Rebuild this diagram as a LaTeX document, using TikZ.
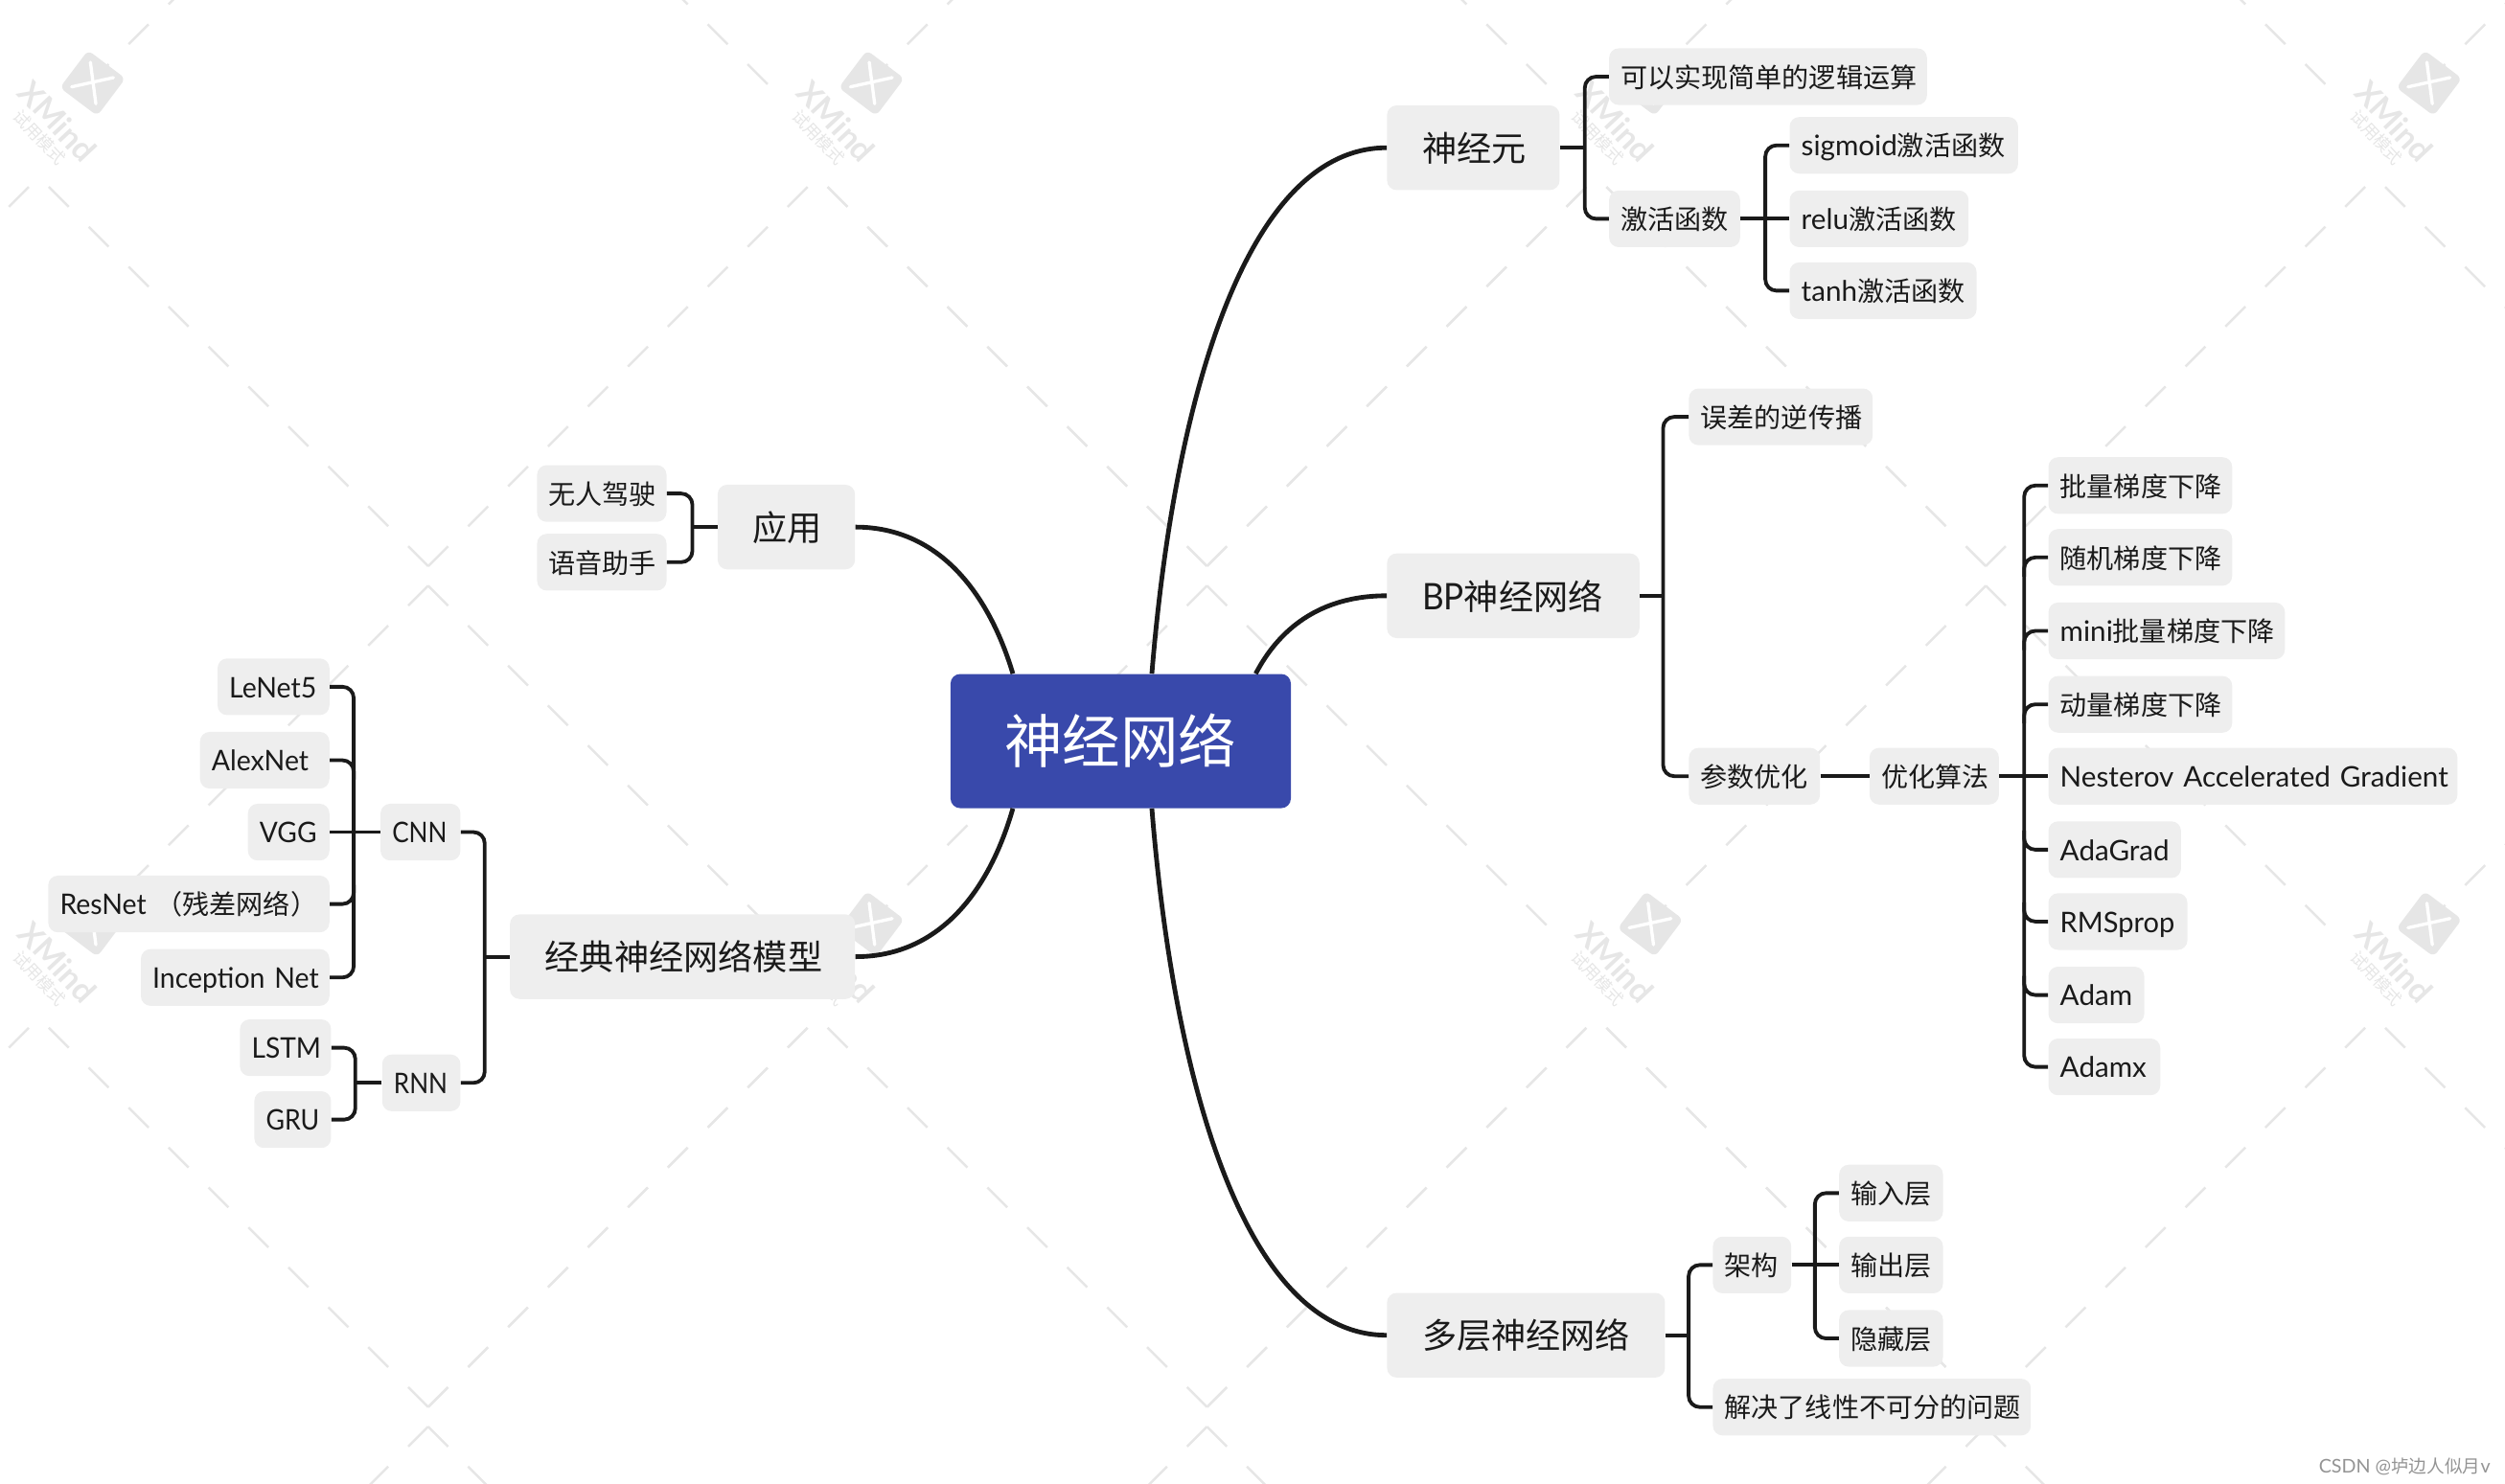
\documentclass[tikz,border=0pt]{standalone}
\usepackage{fontspec}
\setmainfont{Lato}[Scale=1.055]
\newfontfamily\cjf{Noto Sans CJK SC}
\newcommand\zh[1]{{\cjf #1}}
\newcommand\nr[2]{{\addfontfeatures{FakeStretch=#1}#2}}
\definecolor{ink}{HTML}{1A1A1A}
\definecolor{boxg}{HTML}{EEEEEE}
\definecolor{blue1}{HTML}{3949AB}
\definecolor{wmg}{HTML}{E6E6E6}
\tikzset{
  topicbox/.style={fill=boxg,rounded corners=6pt,inner ysep=0pt,text=ink,align=left,anchor=west},
  sub/.style={topicbox,font=\fontsize{16.85}{20}\selectfont,minimum height=35.5pt,text height=15.2pt,text depth=1.7pt,inner xsep=7.3pt},
  major/.style={topicbox,font=\fontsize{21.7}{26}\selectfont,minimum height=53pt,text height=19.4pt,text depth=2.3pt,inner xsep=22pt},
  central/.style={fill=blue1,rounded corners=6pt,text=white,font=\fontsize{36.3}{42}\selectfont,minimum width=213pt,minimum height=84pt,inner sep=0pt,text height=31.7pt,text depth=4.3pt},
  curve/.style={draw=ink,line width=2.9pt},
  br/.style={draw=ink,line width=2.3pt},
  brc/.style={br,rounded corners=7pt},
  wm/.style={draw=wmg,line width=1.5pt},
}
\newcommand\snd[5]{\pgfmathsetmacro\wa{#3-#2}\pgfmathsetmacro\wb{#3-#2-14.6}\node[sub,minimum width=\wa pt,text width=\wb pt] (#1) at (#2,#4) {\mbox{#5}};}
\newcommand\mnd[5]{\pgfmathsetmacro\wa{#3-#2}\pgfmathsetmacro\wb{#3-#2-44}\node[major,minimum width=\wa pt,text width=\wb pt] (#1) at (#2,#4) {\mbox{#5}};}
\begin{document}
\begin{tikzpicture}[x=1pt,y=-1pt]
\useasboundingbox (0,0) rectangle (1568,928.6);
% watermark
\begin{scope}
\clip (0,0) rectangle (1568,928.6);
\foreach \k in {-1,...,3}{
 \foreach \m in {-1,0,1}{
  \pgfmathsetmacro\cxx{268+487.5*\k}
  \pgfmathsetmacro\vy{354.5+526.5*\m}
  \pgfmathsetmacro\uy{366.7+526.5*\m}
  \foreach \n in {0,...,9}{
   \draw[wm] ({\cxx-25*\n},{\vy-25*\n}) -- ++(-12.5,-12.5);
   \draw[wm] ({\cxx+25*\n},{\vy-25*\n}) -- ++(12.5,-12.5);
  }
  \foreach \n in {0,...,8}{
   \draw[wm] ({\cxx-25*\n},{\uy+25*\n}) -- ++(-12.5,12.5);
   \draw[wm] ({\cxx+25*\n},{\uy+25*\n}) -- ++(12.5,12.5);
  }
 }
}
\foreach \k in {0,...,3}{
 \foreach \m in {0,1}{
  \begin{scope}[shift={({487.5*\k},{526.5*\m})}]
   \node[fill=wmg,rounded corners=3.5pt,minimum size=29.3pt,inner sep=0pt,rotate=-37] (wmlogo\k\m) at (58,52) {};
   \draw[white,line width=2pt,line cap=round] (56.6,39) -- (60,65);
   \draw[white,line width=2pt,line cap=round] (44.8,54.4) -- (71,48.6);
   \node[text=wmg,font=\bfseries\fontsize{19}{24}\selectfont,rotate=-47,inner sep=0pt] (wmname\k\m) at (36,76) {XMind};
   \node[text=wmg,font=\cjf\fontsize{10.5}{12}\selectfont,rotate=-47,inner sep=0pt] (wmtrial\k\m) at (25,86) {试用模式};
  \end{scope}
 }
}
\end{scope}
% central
\node[central] (c) at (701.5,464) {\zh{神经网络}};
% right side
\mnd{neuron}{868}{976}{92.5}{\zh{神经元}}
\snd{logic}{1007}{1206}{48}{\zh{可以实现简单的逻辑运算}}
\snd{act}{1007}{1089}{137}{\zh{激活函数}}
\snd{sigm}{1120}{1263}{91}{sigmoid\zh{激活函数}}
\snd{relu}{1120}{1232}{137}{relu\zh{激活函数}}
\snd{tanh}{1120}{1237}{182}{tanh\zh{激活函数}}
\mnd{bp}{868}{1026}{373}{\nr{0.92}{BP}\zh{神经网络}}
\snd{backp}{1057}{1172}{261}{\zh{误差的逆传播}}
\snd{param}{1057}{1139}{486}{\zh{参数优化}}
\snd{optim}{1170}{1251}{486}{\zh{优化算法}}
\snd{o1}{1282}{1397}{304}{\zh{批量梯度下降}}
\snd{o2}{1282}{1397}{349}{\zh{随机梯度下降}}
\snd{o3}{1282}{1430}{395}{mini\zh{批量梯度下降}}
\snd{o4}{1282}{1397}{441}{\zh{动量梯度下降}}
\snd{o5}{1282}{1538}{486}{Nesterov Accelerated Gradient}
\snd{o6}{1282}{1365}{532}{AdaGrad}
\snd{o7}{1282}{1369}{577}{\nr{0.98}{RMSprop}}
\snd{o8}{1282}{1342}{623}{Adam}
\snd{o9}{1282}{1352}{668}{Adamx}
\mnd{multi}{868}{1042}{836}{\zh{多层神经网络}}
\snd{arch}{1072}{1121}{792}{\zh{架构}}
\snd{inl}{1151}{1216}{747}{\zh{输入层}}
\snd{outl}{1151}{1216}{792}{\zh{输出层}}
\snd{hidl}{1151}{1216}{838}{\zh{隐藏层}}
\snd{solve}{1072}{1271}{881}{\zh{解决了线性不可分的问题}}
% left side
\mnd{app}{449}{535}{330}{\zh{应用}}
\snd{drive}{336}{417}{309}{\zh{无人驾驶}}
\snd{voice}{336}{417}{352}{\zh{语音助手}}
\mnd{classic}{319}{535}{599}{\zh{经典神经网络模型}}
\snd{cnn}{238}{288}{521}{\nr{0.88}{CNN}}
\snd{rnn}{239}{288}{678}{\nr{0.88}{RNN}}
\snd{lenet}{136}{206}{430}{\nr{0.96}{LeNet5}}
\snd{alex}{125}{206}{476}{\nr{0.96}{AlexNet}}
\snd{vgg}{155}{206}{521}{\nr{0.95}{VGG}}
\snd{resnet}{30}{206}{566}{\nr{0.96}{ResNet} \zh{（残差网络）}}
\snd{incep}{88}{206}{612}{\nr{0.96}{Inception Net}}
\snd{lstm}{150}{207}{656}{\nr{0.95}{LSTM}}
\snd{gru}{159}{207}{701}{\nr{0.90}{GRU}}
% credit
\node[text=black!42,font=\fontsize{11.2}{14}\selectfont,anchor=east,inner sep=0pt] (credit) at (1559,918) {CSDN @\zh{垆边人似月}v};
% main curves
\draw[curve] ([xshift=19.5pt]c.north) .. controls (735,250) and (780,92.5) .. (neuron.west);
\draw[curve] ([xshift=84.5pt]c.north) .. controls (800,395) and (825,373) .. (bp.west);
\draw[curve] ([xshift=19.5pt]c.south) .. controls (735,680) and (780,836) .. (multi.west);
\draw[curve] ([xshift=-67.5pt]c.north) .. controls (620,375) and (590,330) .. (app.east);
\draw[curve] ([xshift=-67.5pt]c.south) .. controls (620,555) and (590,599) .. (classic.east);
% neuron
\draw[br] (neuron.east) -- ++(16,0);
\draw[brc] (logic.west) -- ++(-15,0) |- (act.west);
% activation
\draw[br] (act.east) -- (relu.west);
\draw[brc] (sigm.west) -- ++(-15,0) |- (tanh.west);
% bp
\draw[br] (bp.east) -- ++(15,0);
\draw[brc] (backp.west) -- ++(-16,0) |- (param.west);
\draw[br] (param.east) -- (optim.west);
\draw[br] (optim.east) -- (o5.west);
\draw[brc] (o1.west) -- ++(-15,0) |- (o9.west);
\foreach \q in {o2,o3,o4}{\draw[brc] (\q.west) -- ++(-15,0) -- ++(0,12);}
\foreach \q in {o6,o7,o8}{\draw[brc] (\q.west) -- ++(-15,0) -- ++(0,-12);}
% multi
\draw[br] (multi.east) -- ++(15,0);
\draw[brc] (arch.west) -- ++(-15,0) |- (solve.west);
\draw[br] (arch.east) -- (outl.west);
\draw[brc] (inl.west) -- ++(-15,0) |- (hidl.west);
% app
\draw[br] (app.west) -- ++(-16,0);
\draw[brc] (drive.east) -- ++(16,0) |- (voice.east);
% classic
\draw[br] (classic.west) -- ++(-16,0);
\draw[brc] (cnn.east) -- ++(15,0) |- (rnn.east);
\draw[br] (cnn.west) -- (vgg.east);
\draw[brc] (lenet.east) -- ++(15,0) |- (incep.east);
\draw[brc] (alex.east) -- ++(15,0) -- ++(0,12);
\draw[brc] (resnet.east) -- ++(15,0) -- ++(0,-12);
\draw[br] (rnn.west) -- ++(-17,0);
\draw[brc] (lstm.east) -- ++(15,0) |- (gru.east);
\end{tikzpicture}
\end{document}
